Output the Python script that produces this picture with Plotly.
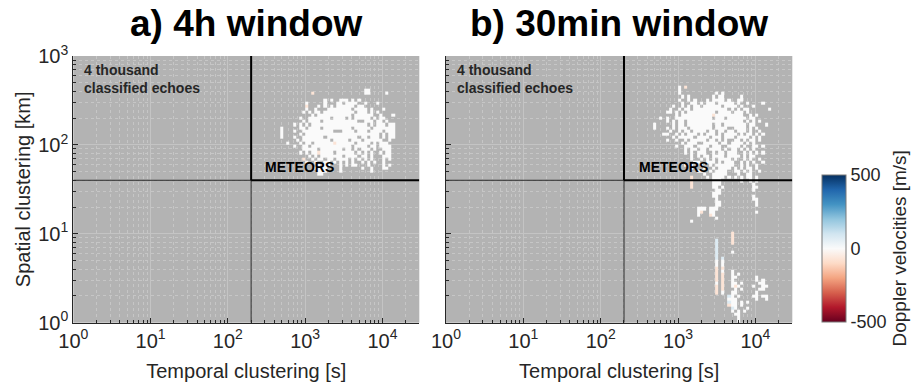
import plotly.graph_objects as go

# ---- axes ------------------------------------------------------------------
x_range_log = [0, 4.477]          # 1 s .. 3e4 s
y_range_log = [0, 3]              # 1 km .. 1000 km
x_tick_vals = [1, 10, 100, 1000, 10000]
x_tick_text = ["10<sup>0</sup>", "10<sup>1</sup>", "10<sup>2</sup>", "10<sup>3</sup>", "10<sup>4</sup>"]
y_tick_vals = [1, 10, 100, 1000]
y_tick_text = ["10<sup>0</sup>", "10<sup>1</sup>", "10<sup>2</sup>", "10<sup>3</sup>"]

# ---- classification thresholds ------------------------------------------------
time_threshold_s = 200
space_threshold_km = 40

# ---- text -------------------------------------------------------------------
panel_titles = ["a) 4h window", "b) 30min window"]
count_label = "4 thousand<br>classified echoes"
region_label = "METEORS"
x_title = "Temporal clustering [s]"
y_title = "Spatial clustering [km]"
cbar_title = "Doppler velocities [m/s]"
cbar_ticks = [-500, 0, 500]
cbar_tick_text = ["-500", "0", "500"]
velocity_limits = [-500, 500]

# ---- 2-D histogram of the clustering plane (log10 bins) -----------------------
bin_x_start = 2.60
bin_x_width = 0.04
bin_y_top = 2.70
bin_y_height = 0.035

# mean Doppler velocity of the echoes in a bin [m/s]; "." = empty bin
velocity_codes = {"#": 0, "o": -70, "b": 70}

panel_a_rows = [
    "........................................",
    "........................................",
    ".............................##.........",
    "............o................##.....#...",
    "........................................",
    "................#.#..###.#.#............",
    "..........#.....#...##.####..#...#......",
    "..........o...#.#.#.######.##...........",
    "..........#..#...########.####.#...#....",
    ".........#.#.##.##########.###.#.#......",
    "............#.###########.######..#...#.",
    "........#..#######.####.#.#####.#.##....",
    ".........#.####.###########..###.##.#...",
    "......#.#.#.##################.#.###.##.",
    "..#.....##.####.#########.#####.#######.",
    "..#...#..##########...####.###.####.###.",
    "..#.....#.########################.#.##.",
    "..#...#..#######.##########.##.###.#.##.",
    ".......#.#########.#####.###.######..#..",
    "....#...#.##.######o######.####.#.###...",
    "......#..##.#############.####.##.####..",
    ".........#####.#######.##.#.###.#..###..",
    "........#.#.##o####.######.#.#.#..#.##..",
    "...........#.#.#######.####.##.#...###..",
    ".........o..#.##.##.####.#.#.#.#...#.#..",
    "..........#..#..##.#.#.#.#..#.#.#..#....",
    "..............#.##...#.#.##...#....#.#..",
    ".............####....#......#..#...##...",
    "..............###....#.........#........",
    "..............##........................",
    "........................................",
]

panel_b_rows = [
    "........................................",
    "..........#.o...........................",
    "..........#.............................",
    "..........#...........#.#...............",
    "...........#.#.......#.##.....#.........",
    "..........#..#.#...#.####.#..##.........",
    "...........#..##.#.###.#####.#..#....#..",
    "........#..#.#.##.######.####.#...#.....",
    ".......#..#.##.###########.#.#.##......#",
    "......##.#.#.#########.####.###.#.......",
    ".........#.##########o#########..#.#....",
    "....#.#..############.###.######.##.....",
    "......#.#.##.##################.#.#.#...",
    "..#.....#.##.########.##.#######.##...#.",
    "..#...#.#.###.#######.####..####.#.#....",
    ".......#..#.##.####.##.##.##.###.#..#...",
    ".....##..#.#.###.#.###.#.####.#.##.#.#..",
    "........#.#####.####.###.###.####.#.#...",
    "......#..#..#.#####.##.#.#..##.#.##.#...",
    "...........#.###..#####.##.####.#.#.....",
    ".........#..###.####.###..####.#..##.#..",
    "............#.##.##.####.#.##.#.#.#.....",
    "............#.#.###..#.##.###..#.#.#.#..",
    "..............#.#.##.####.####.#.##.....",
    "..............#..#.#.#.####.#..#.#..#...",
    "...............##..###.#.###..#.#.#..#..",
    "............#.#..#..#.######..#.#..#....",
    "..............#...#..#.####.#.#.##.#....",
    "................##..#.####..##.#.#..#...",
    "..................#..#####...#..##......",
    "..............o....#.####.#.#.#.##.#....",
    "..............o......###......#..#.#....",
    "..............o......###..........#.....",
    "..............o......##.#.........##....",
    "......................##..........#.....",
    ".....................###................",
    ".....................##...........#.....",
    "......................#...........##....",
    "......................##...........#....",
    "......................##...........#....",
    "................###.###.................",
    "................#o..##.............#....",
    "................#...o#..................",
    "......................#.................",
    "..............#.........................",
    "........................................",
    "........................................",
    "........................................",
    "...........................o............",
    "...........................o............",
    "......................b....o............",
    "......................b....o............",
    "......................b.................",
    "......................b.................",
    "......................b....#............",
    "......................b.................",
    "......................b.b...............",
    "......................#.#...............",
    "......................#.#...............",
    "......................o.o...............",
    "......................o.#..#............",
    "......................o.o..#.#..........",
    "......................o.o..##......#....",
    "......................o.o..#.......#.#..",
    "......................#.o..##.#.....##..",
    "......................o.o..#o#....#..##.",
    "......................o.o...#.#.....##..",
    "......................o.#..##......#....",
    "..........................b#.#....##.##.",
    "..........................###......#..#.",
    "..........................b##.#.#.......",
    "..........................o##.#.........",
    "...........................b#...#.......",
    "...........................#.#.#........",
    "............................##..........",
    ".............................#..........",
    ".............................#..........",
]

# ColorBrewer RdBu, red = receding (negative), blue = approaching (positive)
rdbu = [
    [0.0, "rgb(103,0,31)"], [0.1, "rgb(178,24,43)"], [0.2, "rgb(214,96,77)"],
    [0.3, "rgb(244,165,130)"], [0.4, "rgb(253,219,199)"], [0.5, "rgb(250,250,250)"],
    [0.6, "rgb(209,229,240)"], [0.7, "rgb(146,197,222)"], [0.8, "rgb(67,147,195)"],
    [0.9, "rgb(33,102,172)"], [1.0, "rgb(5,48,97)"],
]

FONT = "Liberation Sans, Arial, sans-serif"
INK = "rgb(38,38,38)"
BG = "rgb(179,179,179)"


def cell_grid(rows):
    ncol = max(len(r) for r in rows)
    nrow = len(rows)
    x_edges = [10 ** (bin_x_start + k * bin_x_width) for k in range(ncol + 1)]
    y_edges = [10 ** (bin_y_top - (nrow - k) * bin_y_height) for k in range(nrow + 1)]
    z = [[velocity_codes.get(c) for c in r.ljust(ncol, ".")] for r in reversed(rows)]
    return x_edges, y_edges, z


fig = go.Figure()

x_lo, x_hi = 10 ** x_range_log[0], 10 ** x_range_log[1]
y_lo, y_hi = 10 ** y_range_log[0], 10 ** y_range_log[1]

for i, rows in enumerate([panel_a_rows, panel_b_rows]):
    xs = "x" if i == 0 else "x2"
    ys = "y" if i == 0 else "y2"
    xe, ye, z = cell_grid(rows)
    fig.add_trace(go.Heatmap(
        x=xe, y=ye, z=z, coloraxis="coloraxis", xaxis=xs, yaxis=ys,
        hoverinfo="skip", showscale=False,
    ))
    # threshold lines: thin outside the meteor quadrant, thick around it
    thin = dict(color="rgb(40,40,40)", width=1)
    thick = dict(color="black", width=2)
    segs = [
        ([time_threshold_s, time_threshold_s], [y_lo, space_threshold_km], thin),
        ([x_lo, time_threshold_s], [space_threshold_km, space_threshold_km], thin),
        ([time_threshold_s, time_threshold_s], [space_threshold_km, y_hi], thick),
        ([time_threshold_s, x_hi], [space_threshold_km, space_threshold_km], thick),
    ]
    for sx, sy, ln in segs:
        fig.add_trace(go.Scatter(x=sx, y=sy, mode="lines", line=ln, xaxis=xs, yaxis=ys,
                                 hoverinfo="skip", showlegend=False))

ax_common = dict(
    type="log", automargin=False, showline=True, linecolor=INK, linewidth=1, mirror=False,
    ticks="inside", ticklen=5, tickcolor=INK, tickwidth=1,
    showgrid=True, gridcolor="rgb(196,196,196)", gridwidth=1, zeroline=False,
    minor=dict(dtick="D1", ticks="inside", ticklen=3, tickcolor=INK,
               showgrid=True, gridcolor="rgb(198,198,198)", griddash="dot", gridwidth=1),
    tickfont=dict(family=FONT, size=20, color=INK),
)

dom_a = [73.3 / 922, 419.3 / 922]
dom_b = [446 / 922, 792.3 / 922]
dom_y = [62.3 / 385, 329 / 385]

fig.update_layout(
    width=922, height=385,
    margin=dict(l=0, r=0, t=0, b=0, autoexpand=False),
    paper_bgcolor="white", plot_bgcolor=BG,
    showlegend=False,
    font=dict(family=FONT, color=INK),
    xaxis=dict(ax_common, domain=dom_a, range=x_range_log, anchor="y",
               tickmode="array", tickvals=x_tick_vals, ticktext=x_tick_text,
               title=dict(text=x_title, font=dict(size=20, color=INK), standoff=13)),
    yaxis=dict(ax_common, domain=dom_y, range=y_range_log, anchor="x",
               tickmode="array", tickvals=y_tick_vals, ticktext=y_tick_text,
               title=dict(text=y_title, font=dict(size=20, color=INK), standoff=2)),
    xaxis2=dict(ax_common, domain=dom_b, range=x_range_log, anchor="y2",
                tickmode="array", tickvals=x_tick_vals, ticktext=x_tick_text,
                title=dict(text=x_title, font=dict(size=20, color=INK), standoff=13)),
    yaxis2=dict(ax_common, domain=dom_y, range=y_range_log, anchor="x2",
                tickmode="array", tickvals=y_tick_vals, ticktext=y_tick_text,
                showticklabels=False),
    coloraxis=dict(
        cmin=velocity_limits[0], cmax=velocity_limits[1], colorscale=rdbu,
        colorbar=dict(
            x=821.7 / 922, xanchor="left", xpad=0, ypad=0,
            y=(385 - 248.3) / 385, yanchor="middle",
            thickness=24, thicknessmode="pixels",
            len=146.7 / 385, lenmode="fraction",
            outlinewidth=1, outlinecolor="rgb(120,120,120)",
            tickmode="array", tickvals=cbar_ticks, ticktext=cbar_tick_text, ticks="",
            tickfont=dict(family=FONT, size=18, color=INK),
            title=dict(text=cbar_title, side="right", font=dict(family=FONT, size=19, color=INK)),
        ),
    ),
)

annotations = []
for i, dom in enumerate([dom_a, dom_b]):
    xd = "x domain" if i == 0 else "x2 domain"
    yd = "y domain" if i == 0 else "y2 domain"
    annotations.append(dict(
        text="<b>%s</b>" % panel_titles[i], xref="paper", yref="paper",
        x=(dom[0] + dom[1]) / 2, y=(385 - 23) / 385, xanchor="center", yanchor="middle",
        showarrow=False, font=dict(family=FONT, size=37, color="black"),
    ))
    annotations.append(dict(
        text="<b>%s</b>" % count_label, xref=xd, yref=yd, x=0.026, y=0.985,
        xanchor="left", yanchor="top", align="left", showarrow=False,
        font=dict(family=FONT, size=14, color=INK),
    ))
    annotations.append(dict(
        text="<b>%s</b>" % region_label, xref=xd, yref=yd, x=0.549 if i == 0 else 0.552,
        y=0.584, xanchor="left", yanchor="middle", showarrow=False,
        font=dict(family=FONT, size=14, color="black"),
    ))
fig.update_layout(annotations=annotations)

fig.write_html("out.html")
